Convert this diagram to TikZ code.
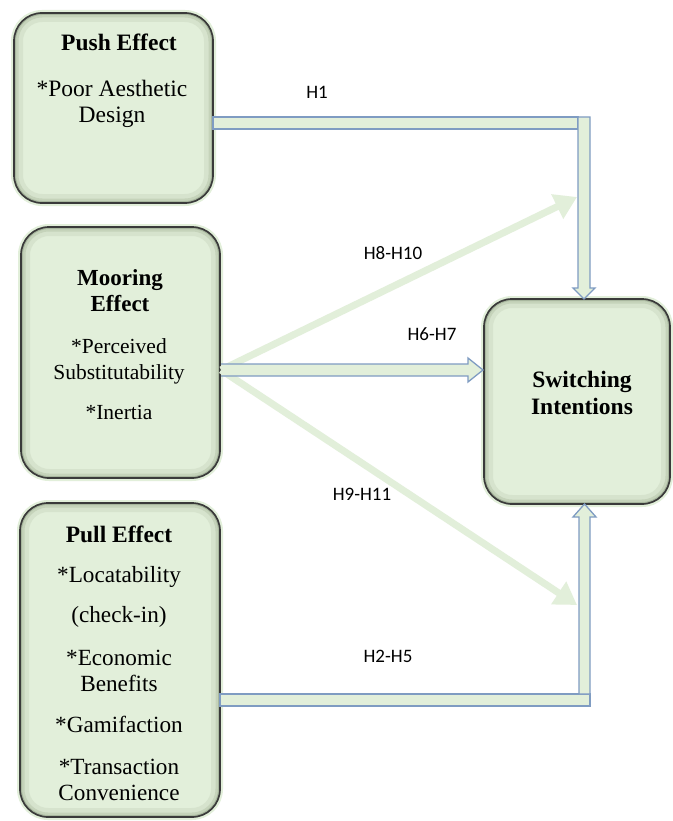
\documentclass[tikz,border=0pt]{standalone}
\usepackage{fontspec}
\setmainfont{Liberation Serif}
\newfontfamily\labfont{Carlito}
\usetikzlibrary{arrows.meta,calc}
\definecolor{boxfill}{HTML}{E2EFDA}
\definecolor{boxedge}{HTML}{3A3A3A}
\definecolor{shadeA}{HTML}{D6E3CD}
\definecolor{shadeB}{HTML}{C5D3BA}
\definecolor{shadeC}{HTML}{A8B79E}
\definecolor{barline}{HTML}{7F9CC2}
\tikzset{
  boxn/.style={inner sep=0pt, outer sep=0pt},
  txt/.style={anchor=base, inner sep=0pt, font=\rmfamily\fontsize{23.2}{27}\selectfont},
  txs/.style={anchor=base, inner sep=0pt, font=\rmfamily\fontsize{21.5}{26}\selectfont},
  ttl/.style={anchor=base, inner sep=0pt, font=\rmfamily\fontsize{23.5}{27}\selectfont\bfseries},
  hyp/.style={anchor=base, inner sep=0pt, font=\labfont\fontsize{19}{22}\selectfont},
  bar/.style={fill=boxfill, draw=barline, line width=1.3pt, line join=miter},
  diag/.style={draw=boxfill, line width=7pt, -{Triangle[length=22pt,width=26pt]}},
}
\newcommand\gbox[1]{%
  \draw[boxfill, line width=6pt, rounded corners=28pt] (#1.north west) rectangle (#1.south east);
  \fill[boxfill, rounded corners=28pt] (#1.north west) rectangle (#1.south east);
  \begin{scope}
    \clip[rounded corners=28pt] (#1.north west) rectangle (#1.south east);
    \draw[shadeA, line width=18pt, rounded corners=28pt] (#1.north west) rectangle (#1.south east);
    \draw[shadeB, line width=9pt, rounded corners=28pt] (#1.north west) rectangle (#1.south east);
    \draw[shadeC, line width=4pt, rounded corners=28pt] (#1.north west) rectangle (#1.south east);
  \end{scope}
  \draw[boxedge, line width=1.7pt, rounded corners=28pt] (#1.north west) rectangle (#1.south east);
}
\begin{document}
\begin{tikzpicture}[x=1pt,y=-1pt]
\useasboundingbox (0,0) rectangle (672,821);
\fill[white] (0,0) rectangle (672,821);

% boxes
\node[boxn, minimum width=199pt, minimum height=190pt] (push) at (113.5,108) {};
\node[boxn, minimum width=199pt, minimum height=251pt] (moor) at (120.5,352.5) {};
\node[boxn, minimum width=200pt, minimum height=314pt] (pull) at (120,660) {};
\node[boxn, minimum width=186pt, minimum height=205pt] (sw) at (577,401.5) {};
\gbox{push}
\gbox{moor}
\gbox{pull}
\gbox{sw}

% diagonal connectors
\coordinate (m0) at (221,370);
\coordinate (tipU) at (577,197);
\coordinate (tipL) at (577,605);
\draw[diag] (m0) -- (tipU);
\draw[diag] (m0) -- (tipL);

% block connectors
\draw[bar] (213,117) rectangle (578,129);
\draw[bar] (578,117) -- (590,117) -- (590,288) -- (595,288) -- (584,299) -- (573,288) -- (578,288) -- cycle;
\draw[bar] (220,694) rectangle (590,706);
\draw[bar] (579,694) -- (579,517) -- (573,517) -- (584.5,504) -- (596,517) -- (590,517) -- (590,694) -- cycle;
\draw[bar] (221,364) -- (468,364) -- (468,358) -- (483,370) -- (468,382) -- (468,376) -- (221,376);

% texts
\node[ttl] (p0) at (119,51) {Push Effect};
\node[txt, font=\rmfamily\fontsize{23.5}{27}\selectfont] (p1) at (112,97) {*Poor Aesthetic};
\node[txt, font=\rmfamily\fontsize{23.5}{27}\selectfont] (p2) at (112,123) {Design};

\node[ttl, font=\rmfamily\fontsize{23}{27}\selectfont\bfseries] (m1) at (120,285) {Mooring};
\node[ttl, font=\rmfamily\fontsize{23}{27}\selectfont\bfseries] (m2) at (120,311) {Effect};
\node[txs] (m3) at (119,353) {*Perceived};
\node[txs] (m4) at (119,379) {Substitutability};
\node[txs] (m5) at (119,419) {*Inertia};

\node[ttl] (q0) at (119,542) {Pull Effect};
\node[txt] (q1) at (119,582) {*Locatability};
\node[txt] (q2) at (119,622) {(check-in)};
\node[txt] (q3) at (119,665) {*Economic};
\node[txt] (q4) at (119,691) {Benefits};
\node[txt] (q5) at (119,732) {*Gamifaction};
\node[txt] (q6) at (119,774) {*Transaction};
\node[txt] (q7) at (119,800) {Convenience};

\node[ttl] (s1) at (582,387) {Switching};
\node[ttl] (s2) at (582,414) {Intentions};

% hypothesis labels
\node[hyp] (h1) at (317,99) {H1};
\node[hyp] (h8) at (393,259) {H8-H10};
\node[hyp] (h6) at (432,340) {H6-H7};
\node[hyp] (h9) at (362,500) {H9-H11};
\node[hyp] (h2) at (388,662) {H2-H5};
\end{tikzpicture}
\end{document}
